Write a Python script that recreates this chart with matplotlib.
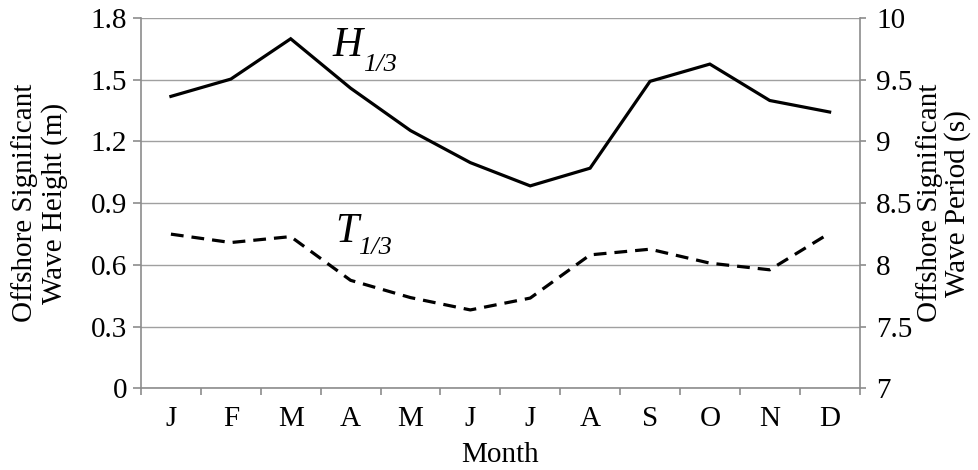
import matplotlib
matplotlib.use('Agg')
import matplotlib.pyplot as plt
import numpy as np

months = ['J', 'F', 'M', 'A', 'M', 'J', 'J', 'A', 'S', 'O', 'N', 'D']
h13 = [1.419, 1.503, 1.699, 1.459, 1.253, 1.097, 0.984, 1.070, 1.492, 1.576, 1.399, 1.343]
t13 = [8.249, 8.181, 8.229, 7.875, 7.735, 7.635, 7.731, 8.081, 8.127, 8.014, 7.960, 8.257]
h_ticks = [0, 0.3, 0.6, 0.9, 1.2, 1.5, 1.8]
t_ticks = [7, 7.5, 8, 8.5, 9, 9.5, 10]

plt.rcParams['font.family'] = 'Liberation Serif'

grey = '#8c8c8c'
fig = plt.figure(figsize=(9.79, 4.70), dpi=100)
ax = fig.add_axes([0.144, 0.1738, 0.734, 0.7879])
ax2 = ax.twinx()

x = np.arange(len(months))
ax.plot(x, h13, color='black', lw=2.3, solid_joinstyle='miter')
ax2.plot(x, t13, color='black', lw=2.3, linestyle=(0, (4, 2.5)))

ax.set_xlim(-0.5, 11.5)
ax.set_ylim(0, 1.8)
ax2.set_ylim(7, 10)
ax.set_yticks(h_ticks)
ax.set_yticklabels(['0', '0.3', '0.6', '0.9', '1.2', '1.5', '1.8'])
ax2.set_yticks(t_ticks)
ax2.set_yticklabels(['7', '7.5', '8', '8.5', '9', '9.5', '10'])
ax.set_xticks(x)
ax.set_xticklabels(months)
ax.set_xticks(np.arange(-0.5, 12, 1), minor=True)

ax.grid(axis='y', color='#a0a0a0', lw=1)
ax.set_axisbelow(True)
for a in (ax, ax2):
    for s in a.spines.values():
        s.set_color(grey)
        s.set_linewidth(1.2)
    a.spines['top'].set_visible(False)
ax.spines['right'].set_visible(False)
ax2.spines['left'].set_visible(False)
ax2.spines['bottom'].set_visible(False)

ax.tick_params(axis='x', which='major', length=0, labelsize=21, pad=13)
ax.tick_params(axis='x', which='minor', length=5, color=grey, width=1.2)
ax.tick_params(axis='y', length=6, color=grey, width=1.2, labelsize=21, pad=4)
ax2.tick_params(axis='y', length=4, color=grey, width=1.2, labelsize=21, pad=8)

ax.set_xlabel('Month', fontsize=21)
ax.xaxis.set_label_coords(0.5, -0.145)
ax.set_ylabel('Offshore Significant\nWave Height (m)', fontsize=21, linespacing=1.12)
ax.yaxis.set_label_coords(-0.102, 0.5)
ax2.set_ylabel('Offshore Significant\nWave Period (s)', fontsize=21, rotation=90, linespacing=1.05)
ax2.yaxis.set_label_coords(1.079, 0.5)

# series labels: italic letter with italic subscript
ax.text(2.7, 1.613, 'H', fontsize=30, fontstyle='italic', ha='left', va='baseline')
ax.annotate('1/3', xy=(2.7, 1.613), xytext=(22, -10.5), textcoords='offset points',
            fontsize=19, fontstyle='italic', ha='left', va='baseline')
ax.text(2.74, 0.713, 'T', fontsize=30, fontstyle='italic', ha='left', va='baseline')
ax.annotate('1/3', xy=(2.74, 0.713), xytext=(16.5, -9), textcoords='offset points',
            fontsize=19, fontstyle='italic', ha='left', va='baseline')

fig.savefig('out.png', dpi=100)
